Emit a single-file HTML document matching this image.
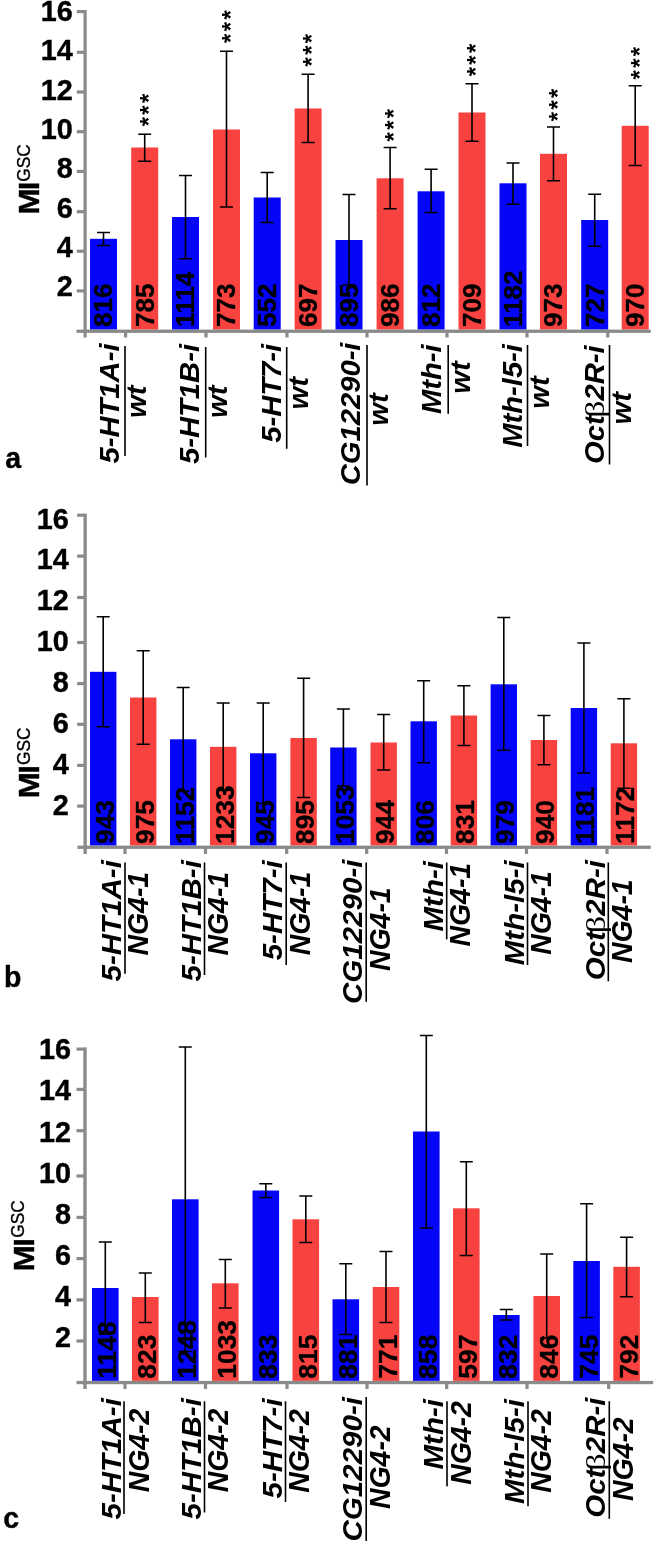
<!DOCTYPE html>
<html lang="en">
<head>
<meta charset="utf-8">
<title>MI GSC bar charts</title>
<style>html,body{margin:0;padding:0;background:#fff}svg{display:block;will-change:transform}</style>
</head>
<body>
<svg width="663" height="1541" viewBox="0 0 663 1541" font-family="'Liberation Sans', Arial, Helvetica, sans-serif" fill="#000">
<rect x="0" y="0" width="663" height="1541" fill="#fff"/>
<g id="panel-a">
<rect x="90" y="238.8" width="27" height="90.8" fill="#0505f7"/>
<rect x="131.2" y="147.5" width="27" height="182.1" fill="#f7423f"/>
<rect x="172" y="217" width="27" height="112.6" fill="#0505f7"/>
<rect x="213" y="129.5" width="27" height="200.1" fill="#f7423f"/>
<rect x="253.7" y="197.5" width="27" height="132.1" fill="#0505f7"/>
<rect x="294.6" y="108.5" width="27" height="221.1" fill="#f7423f"/>
<rect x="335.5" y="240" width="27" height="89.6" fill="#0505f7"/>
<rect x="376.6" y="178.3" width="27" height="151.3" fill="#f7423f"/>
<rect x="417.6" y="191.3" width="27" height="138.3" fill="#0505f7"/>
<rect x="458.5" y="112.5" width="27" height="217.1" fill="#f7423f"/>
<rect x="499.5" y="183.3" width="27" height="146.3" fill="#0505f7"/>
<rect x="540" y="153.8" width="27" height="175.8" fill="#f7423f"/>
<rect x="581.2" y="220" width="27" height="109.6" fill="#0505f7"/>
<rect x="621.7" y="125.8" width="27" height="203.8" fill="#f7423f"/>
<rect x="83.5" y="10" width="3.2" height="327.5" fill="#8a8a8a"/>
<rect x="76.5" y="329.6" width="574.3" height="3.3" fill="#8a8a8a"/>
<rect x="76.8" y="10" width="7.2" height="3.2" fill="#8a8a8a"/>
<rect x="76.8" y="50.7" width="7.2" height="3.2" fill="#8a8a8a"/>
<rect x="76.8" y="90.4" width="7.2" height="3.2" fill="#8a8a8a"/>
<rect x="76.8" y="130.1" width="7.2" height="3.2" fill="#8a8a8a"/>
<rect x="76.8" y="169.8" width="7.2" height="3.2" fill="#8a8a8a"/>
<rect x="76.8" y="210.1" width="7.2" height="3.2" fill="#8a8a8a"/>
<rect x="76.8" y="249.6" width="7.2" height="3.2" fill="#8a8a8a"/>
<rect x="76.8" y="289.3" width="7.2" height="3.2" fill="#8a8a8a"/>
<rect x="124" y="332.4" width="3.2" height="5.1" fill="#8a8a8a"/>
<rect x="204.4" y="332.4" width="3.2" height="5.1" fill="#8a8a8a"/>
<rect x="285.4" y="332.4" width="3.2" height="5.1" fill="#8a8a8a"/>
<rect x="365.4" y="332.4" width="3.2" height="5.1" fill="#8a8a8a"/>
<rect x="445.4" y="332.4" width="3.2" height="5.1" fill="#8a8a8a"/>
<rect x="525.4" y="332.4" width="3.2" height="5.1" fill="#8a8a8a"/>
<rect x="606.2" y="332.4" width="3.2" height="5.1" fill="#8a8a8a"/>
<text transform="translate(72.7 21.1) scale(1 1.02)" font-size="28.8" font-weight="bold" text-anchor="end" stroke="#000" stroke-width="0.4">16</text>
<text transform="translate(72.7 60.4) scale(1 1.02)" font-size="28.8" font-weight="bold" text-anchor="end" stroke="#000" stroke-width="0.4">14</text>
<text transform="translate(72.7 99.7) scale(1 1.02)" font-size="28.8" font-weight="bold" text-anchor="end" stroke="#000" stroke-width="0.4">12</text>
<text transform="translate(72.7 138.9) scale(1 1.02)" font-size="28.8" font-weight="bold" text-anchor="end" stroke="#000" stroke-width="0.4">10</text>
<text transform="translate(72.7 178.2) scale(1 1.02)" font-size="28.8" font-weight="bold" text-anchor="end" stroke="#000" stroke-width="0.4">8</text>
<text transform="translate(72.7 217.5) scale(1 1.02)" font-size="28.8" font-weight="bold" text-anchor="end" stroke="#000" stroke-width="0.4">6</text>
<text transform="translate(72.7 256.7) scale(1 1.02)" font-size="28.8" font-weight="bold" text-anchor="end" stroke="#000" stroke-width="0.4">4</text>
<text transform="translate(72.7 296) scale(1 1.02)" font-size="28.8" font-weight="bold" text-anchor="end" stroke="#000" stroke-width="0.4">2</text>
<g stroke="#000" stroke-width="1.6" fill="none">
<path d="M103.5 232.5 V245.5 M97 232.5 H110 M97 245.5 H110"/>
<path d="M144.7 134.3 V161.3 M138.2 134.3 H151.2 M138.2 161.3 H151.2"/>
<path d="M185.5 175.5 V258.8 M179 175.5 H192 M179 258.8 H192"/>
<path d="M226.5 51.3 V207 M220 51.3 H233 M220 207 H233"/>
<path d="M267.2 172.5 V222.5 M260.7 172.5 H273.7 M260.7 222.5 H273.7"/>
<path d="M308.1 74.3 V142.5 M301.6 74.3 H314.6 M301.6 142.5 H314.6"/>
<path d="M349 194.5 V285 M342.5 194.5 H355.5 M342.5 285 H355.5"/>
<path d="M390.1 147.5 V208.8 M383.6 147.5 H396.6 M383.6 208.8 H396.6"/>
<path d="M431.1 169.3 V212.5 M424.6 169.3 H437.6 M424.6 212.5 H437.6"/>
<path d="M472 83.8 V141.3 M465.5 83.8 H478.5 M465.5 141.3 H478.5"/>
<path d="M513 163 V204.3 M506.5 163 H519.5 M506.5 204.3 H519.5"/>
<path d="M553.5 127 V180.8 M547 127 H560 M547 180.8 H560"/>
<path d="M594.7 194.3 V246.3 M588.2 194.3 H601.2 M588.2 246.3 H601.2"/>
<path d="M635.2 85.8 V165.5 M628.7 85.8 H641.7 M628.7 165.5 H641.7"/>
</g>
<text transform="translate(112.44 326.9) scale(1 1.01) rotate(-90)" font-size="25.8" font-weight="bold" font-style="normal" stroke="#000" stroke-width="0.3">816</text>
<text transform="translate(153.64 326.9) scale(1 1.01) rotate(-90)" font-size="25.8" font-weight="bold" font-style="normal" stroke="#000" stroke-width="0.3">785</text>
<text transform="translate(157 126.3) scale(1 1) rotate(-90)" font-size="24" font-weight="bold" font-style="normal" letter-spacing="2.3">***</text>
<text transform="translate(194.44 326.9) scale(1 1.01) rotate(-90)" font-size="25.8" font-weight="bold" font-style="normal" stroke="#000" stroke-width="0.3">1114</text>
<text transform="translate(235.44 326.9) scale(1 1.01) rotate(-90)" font-size="25.8" font-weight="bold" font-style="normal" stroke="#000" stroke-width="0.3">773</text>
<text transform="translate(238.8 42.9) scale(1 1) rotate(-90)" font-size="24" font-weight="bold" font-style="normal" letter-spacing="2.3">***</text>
<text transform="translate(276.14 326.9) scale(1 1.01) rotate(-90)" font-size="25.8" font-weight="bold" font-style="normal" stroke="#000" stroke-width="0.3">552</text>
<text transform="translate(317.04 326.9) scale(1 1.01) rotate(-90)" font-size="25.8" font-weight="bold" font-style="normal" stroke="#000" stroke-width="0.3">697</text>
<text transform="translate(320.4 66.5) scale(1 1) rotate(-90)" font-size="24" font-weight="bold" font-style="normal" letter-spacing="2.3">***</text>
<text transform="translate(357.94 326.9) scale(1 1.01) rotate(-90)" font-size="25.8" font-weight="bold" font-style="normal" stroke="#000" stroke-width="0.3">895</text>
<text transform="translate(399.04 326.9) scale(1 1.01) rotate(-90)" font-size="25.8" font-weight="bold" font-style="normal" stroke="#000" stroke-width="0.3">986</text>
<text transform="translate(402.4 141.5) scale(1 1) rotate(-90)" font-size="24" font-weight="bold" font-style="normal" letter-spacing="2.3">***</text>
<text transform="translate(440.04 326.9) scale(1 1.01) rotate(-90)" font-size="25.8" font-weight="bold" font-style="normal" stroke="#000" stroke-width="0.3">812</text>
<text transform="translate(480.94 326.9) scale(1 1.01) rotate(-90)" font-size="25.8" font-weight="bold" font-style="normal" stroke="#000" stroke-width="0.3">709</text>
<text transform="translate(484.3 76.3) scale(1 1) rotate(-90)" font-size="24" font-weight="bold" font-style="normal" letter-spacing="2.3">***</text>
<text transform="translate(521.94 326.9) scale(1 1.01) rotate(-90)" font-size="25.8" font-weight="bold" font-style="normal" stroke="#000" stroke-width="0.3">1182</text>
<text transform="translate(562.44 326.9) scale(1 1.01) rotate(-90)" font-size="25.8" font-weight="bold" font-style="normal" stroke="#000" stroke-width="0.3">973</text>
<text transform="translate(565.8 121.2) scale(1 1) rotate(-90)" font-size="24" font-weight="bold" font-style="normal" letter-spacing="2.3">***</text>
<text transform="translate(603.64 326.9) scale(1 1.01) rotate(-90)" font-size="25.8" font-weight="bold" font-style="normal" stroke="#000" stroke-width="0.3">727</text>
<text transform="translate(644.14 326.9) scale(1 1.01) rotate(-90)" font-size="25.8" font-weight="bold" font-style="normal" stroke="#000" stroke-width="0.3">970</text>
<text transform="translate(647.5 79.5) scale(1 1) rotate(-90)" font-size="24" font-weight="bold" font-style="normal" letter-spacing="2.3">***</text>
<text transform="translate(39 214.6) scale(1 1.05) rotate(-90)" font-size="29.8" font-weight="bold" font-style="normal" stroke="#000" stroke-width="0.4">M<tspan dx="-1.6">I</tspan></text>
<text transform="translate(29.5 181.8) scale(1 0.96) rotate(-90)" font-size="18" font-weight="normal" font-style="normal" stroke="#000" stroke-width="0.35">GSC</text>
<text transform="translate(5.3 467.6) scale(1 1.05)" font-size="28.5" font-weight="bold" text-anchor="start" stroke="#000" stroke-width="0.4">a</text>
<text transform="translate(118.8 463.5) scale(1 1.05) rotate(-90)" font-size="27.8" font-weight="bold" font-style="italic">5-HT1A-i</text>
<rect x="124.2" y="346" width="1.6" height="110" fill="#000"/>
<text transform="translate(145.7 418) scale(1 1.05) rotate(-90)" font-size="27.8" font-weight="bold" font-style="italic">wt</text>
<text transform="translate(198.5 464) scale(1 1.05) rotate(-90)" font-size="27.8" font-weight="bold" font-style="italic">5-HT1B-i</text>
<rect x="204.9" y="347" width="1.6" height="110.5" fill="#000"/>
<text transform="translate(226.9 418) scale(1 1.05) rotate(-90)" font-size="27.8" font-weight="bold" font-style="italic">wt</text>
<text transform="translate(280.5 442.8) scale(1 1.05) rotate(-90)" font-size="27.8" font-weight="bold" font-style="italic">5-HT7-i</text>
<rect x="285.9" y="347" width="1.6" height="101.8" fill="#000"/>
<text transform="translate(307.9 409.5) scale(1 1.05) rotate(-90)" font-size="27.8" font-weight="bold" font-style="italic">wt</text>
<text transform="translate(360.3 485.3) scale(1 1.05) rotate(-90)" font-size="27.8" font-weight="bold" font-style="italic">CG12290-i</text>
<rect x="366.2" y="345" width="1.6" height="140.5" fill="#000"/>
<text transform="translate(388.2 425.8) scale(1 1.05) rotate(-90)" font-size="27.8" font-weight="bold" font-style="italic">wt</text>
<text transform="translate(441.3 414) scale(1 1.05) rotate(-90)" font-size="27.8" font-weight="bold" font-style="italic">Mth-i</text>
<rect x="447.4" y="345" width="1.6" height="68.8" fill="#000"/>
<text transform="translate(469.5 393.8) scale(1 1.05) rotate(-90)" font-size="27.8" font-weight="bold" font-style="italic">wt</text>
<text transform="translate(522.3 447.8) scale(1 1.05) rotate(-90)" font-size="27.8" font-weight="bold" font-style="italic">Mth-l5-i</text>
<rect x="526.7" y="345" width="1.6" height="101" fill="#000"/>
<text transform="translate(548.7 408.8) scale(1 1.05) rotate(-90)" font-size="27.8" font-weight="bold" font-style="italic">wt</text>
<text transform="translate(603.8 464) scale(1 1.05) rotate(-90)" font-size="27.8" font-weight="bold" font-style="italic">Oct</text>
<text transform="translate(603.8 417.7) scale(1 1.25) rotate(-90)" font-size="27" font-weight="normal" font-style="normal" font-family="'Liberation Serif', 'DejaVu Serif', serif">&#946;</text>
<text transform="translate(603.8 400.5) scale(1 1.05) rotate(-90)" font-size="27.8" font-weight="bold" font-style="italic">2R-i</text>
<rect x="608.7" y="345" width="1.6" height="119.5" fill="#000"/>
<text transform="translate(630.7 424.5) scale(1 1.05) rotate(-90)" font-size="27.8" font-weight="bold" font-style="italic">wt</text>
</g>
<g id="panel-b">
<rect x="90" y="671.8" width="26.4" height="173.8" fill="#0505f7"/>
<rect x="130" y="697.5" width="26.4" height="148.1" fill="#f7423f"/>
<rect x="170" y="739.3" width="26.4" height="106.3" fill="#0505f7"/>
<rect x="210" y="746.8" width="26.4" height="98.8" fill="#f7423f"/>
<rect x="250" y="753.3" width="26.4" height="92.3" fill="#0505f7"/>
<rect x="290.4" y="738" width="26.4" height="107.6" fill="#f7423f"/>
<rect x="330.2" y="747.5" width="26.4" height="98.1" fill="#0505f7"/>
<rect x="370.5" y="742.5" width="26.4" height="103.1" fill="#f7423f"/>
<rect x="410.5" y="721.3" width="26.4" height="124.3" fill="#0505f7"/>
<rect x="450.7" y="715.5" width="26.4" height="130.1" fill="#f7423f"/>
<rect x="490.6" y="684.3" width="26.4" height="161.3" fill="#0505f7"/>
<rect x="530.7" y="740" width="26.4" height="105.6" fill="#f7423f"/>
<rect x="570.7" y="708" width="26.4" height="137.6" fill="#0505f7"/>
<rect x="610.7" y="743.3" width="26.4" height="102.3" fill="#f7423f"/>
<rect x="83.5" y="513.6" width="3.3" height="340.4" fill="#8a8a8a"/>
<rect x="77.5" y="845.6" width="573.3" height="3.3" fill="#8a8a8a"/>
<rect x="77.2" y="513.6" width="6.8" height="3.2" fill="#8a8a8a"/>
<rect x="77.2" y="554.5" width="6.8" height="3.2" fill="#8a8a8a"/>
<rect x="77.2" y="595.9" width="6.8" height="3.2" fill="#8a8a8a"/>
<rect x="77.2" y="640.9" width="6.8" height="3.2" fill="#8a8a8a"/>
<rect x="77.2" y="682" width="6.8" height="3.2" fill="#8a8a8a"/>
<rect x="77.2" y="722.7" width="6.8" height="3.2" fill="#8a8a8a"/>
<rect x="77.2" y="763.8" width="6.8" height="3.2" fill="#8a8a8a"/>
<rect x="77.2" y="804.5" width="6.8" height="3.2" fill="#8a8a8a"/>
<rect x="123.4" y="848.4" width="3.2" height="5.6" fill="#8a8a8a"/>
<rect x="203.9" y="848.4" width="3.2" height="5.6" fill="#8a8a8a"/>
<rect x="285.1" y="848.4" width="3.2" height="5.6" fill="#8a8a8a"/>
<rect x="365.1" y="848.4" width="3.2" height="5.6" fill="#8a8a8a"/>
<rect x="444.9" y="848.4" width="3.2" height="5.6" fill="#8a8a8a"/>
<rect x="524.9" y="848.4" width="3.2" height="5.6" fill="#8a8a8a"/>
<rect x="605.4" y="848.4" width="3.2" height="5.6" fill="#8a8a8a"/>
<text transform="translate(68.7 528.5) scale(1 1.02)" font-size="28.8" font-weight="bold" text-anchor="end" stroke="#000" stroke-width="0.4">16</text>
<text transform="translate(68.7 569.4) scale(1 1.02)" font-size="28.8" font-weight="bold" text-anchor="end" stroke="#000" stroke-width="0.4">14</text>
<text transform="translate(68.7 610.2) scale(1 1.02)" font-size="28.8" font-weight="bold" text-anchor="end" stroke="#000" stroke-width="0.4">12</text>
<text transform="translate(68.7 651.1) scale(1 1.02)" font-size="28.8" font-weight="bold" text-anchor="end" stroke="#000" stroke-width="0.4">10</text>
<text transform="translate(68.7 692) scale(1 1.02)" font-size="28.8" font-weight="bold" text-anchor="end" stroke="#000" stroke-width="0.4">8</text>
<text transform="translate(68.7 732.9) scale(1 1.02)" font-size="28.8" font-weight="bold" text-anchor="end" stroke="#000" stroke-width="0.4">6</text>
<text transform="translate(68.7 773.7) scale(1 1.02)" font-size="28.8" font-weight="bold" text-anchor="end" stroke="#000" stroke-width="0.4">4</text>
<text transform="translate(68.7 814.6) scale(1 1.02)" font-size="28.8" font-weight="bold" text-anchor="end" stroke="#000" stroke-width="0.4">2</text>
<g stroke="#000" stroke-width="1.6" fill="none">
<path d="M103.2 616.8 V726.8 M96.7 616.8 H109.7 M96.7 726.8 H109.7"/>
<path d="M143.2 650.8 V744.3 M136.7 650.8 H149.7 M136.7 744.3 H149.7"/>
<path d="M183.2 687.5 V791 M176.7 687.5 H189.7 M176.7 791 H189.7"/>
<path d="M223.2 703 V790.5 M216.7 703 H229.7 M216.7 790.5 H229.7"/>
<path d="M263.2 703 V803.5 M256.7 703 H269.7 M256.7 803.5 H269.7"/>
<path d="M303.6 678.3 V797.5 M297.1 678.3 H310.1 M297.1 797.5 H310.1"/>
<path d="M343.4 709 V786 M336.9 709 H349.9 M336.9 786 H349.9"/>
<path d="M383.7 714.5 V770 M377.2 714.5 H390.2 M377.2 770 H390.2"/>
<path d="M423.7 680.8 V762.8 M417.2 680.8 H430.2 M417.2 762.8 H430.2"/>
<path d="M463.9 685.8 V745.5 M457.4 685.8 H470.4 M457.4 745.5 H470.4"/>
<path d="M503.8 617.5 V750.3 M497.3 617.5 H510.3 M497.3 750.3 H510.3"/>
<path d="M543.9 715.5 V764.8 M537.4 715.5 H550.4 M537.4 764.8 H550.4"/>
<path d="M583.9 643 V773 M577.4 643 H590.4 M577.4 773 H590.4"/>
<path d="M623.9 698.8 V788.3 M617.4 698.8 H630.4 M617.4 788.3 H630.4"/>
</g>
<text transform="translate(113.55 844) scale(1 1) rotate(-90)" font-size="26.4" font-weight="bold" font-style="normal" stroke="#000" stroke-width="0.3">943</text>
<text transform="translate(153.55 844) scale(1 1) rotate(-90)" font-size="26.4" font-weight="bold" font-style="normal" stroke="#000" stroke-width="0.3">975</text>
<text transform="translate(193.55 844) scale(1 1) rotate(-90)" font-size="26.4" font-weight="bold" font-style="normal" stroke="#000" stroke-width="0.3">1152</text>
<text transform="translate(233.55 844) scale(1 1) rotate(-90)" font-size="26.4" font-weight="bold" font-style="normal" stroke="#000" stroke-width="0.3">1233</text>
<text transform="translate(273.55 844) scale(1 1) rotate(-90)" font-size="26.4" font-weight="bold" font-style="normal" stroke="#000" stroke-width="0.3">945</text>
<text transform="translate(313.95 844) scale(1 1) rotate(-90)" font-size="26.4" font-weight="bold" font-style="normal" stroke="#000" stroke-width="0.3">895</text>
<text transform="translate(353.75 844) scale(1 1) rotate(-90)" font-size="26.4" font-weight="bold" font-style="normal" stroke="#000" stroke-width="0.3">1053</text>
<text transform="translate(394.05 844) scale(1 1) rotate(-90)" font-size="26.4" font-weight="bold" font-style="normal" stroke="#000" stroke-width="0.3">944</text>
<text transform="translate(434.05 844) scale(1 1) rotate(-90)" font-size="26.4" font-weight="bold" font-style="normal" stroke="#000" stroke-width="0.3">806</text>
<text transform="translate(474.25 844) scale(1 1) rotate(-90)" font-size="26.4" font-weight="bold" font-style="normal" stroke="#000" stroke-width="0.3">831</text>
<text transform="translate(514.15 844) scale(1 1) rotate(-90)" font-size="26.4" font-weight="bold" font-style="normal" stroke="#000" stroke-width="0.3">979</text>
<text transform="translate(554.25 844) scale(1 1) rotate(-90)" font-size="26.4" font-weight="bold" font-style="normal" stroke="#000" stroke-width="0.3">940</text>
<text transform="translate(594.25 844) scale(1 1) rotate(-90)" font-size="26.4" font-weight="bold" font-style="normal" stroke="#000" stroke-width="0.3">1181</text>
<text transform="translate(634.25 844) scale(1 1) rotate(-90)" font-size="26.4" font-weight="bold" font-style="normal" stroke="#000" stroke-width="0.3">1172</text>
<text transform="translate(39 798.2) scale(1 1.05) rotate(-90)" font-size="29.8" font-weight="bold" font-style="normal" stroke="#000" stroke-width="0.4">M<tspan dx="-1.6">I</tspan></text>
<text transform="translate(29.5 765) scale(1 0.96) rotate(-90)" font-size="18" font-weight="normal" font-style="normal" stroke="#000" stroke-width="0.35">GSC</text>
<text transform="translate(4 986.5) scale(1 1.05)" font-size="28.5" font-weight="bold" text-anchor="start" stroke="#000" stroke-width="0.4">b</text>
<text transform="translate(121.2 981.5) scale(1 1.04) rotate(-90)" font-size="28.4" font-weight="bold" font-style="italic">5-HT1A-i</text>
<rect x="124.2" y="862.5" width="1.6" height="111.3" fill="#000"/>
<text transform="translate(148.4 955.5) scale(1 0.96) rotate(-90)" font-size="29.6" font-weight="bold" font-style="italic">NG4-1</text>
<text transform="translate(200.7 981.5) scale(1 1.04) rotate(-90)" font-size="28.4" font-weight="bold" font-style="italic">5-HT1B-i</text>
<rect x="203.7" y="862.5" width="1.6" height="112.5" fill="#000"/>
<text transform="translate(227.9 955.5) scale(1 0.96) rotate(-90)" font-size="29.6" font-weight="bold" font-style="italic">NG4-1</text>
<text transform="translate(282.4 960.3) scale(1 1.04) rotate(-90)" font-size="28.4" font-weight="bold" font-style="italic">5-HT7-i</text>
<rect x="285.4" y="862.5" width="1.6" height="102.5" fill="#000"/>
<text transform="translate(309.6 955.3) scale(1 0.96) rotate(-90)" font-size="29.6" font-weight="bold" font-style="italic">NG4-1</text>
<text transform="translate(362.4 1004) scale(1 1.04) rotate(-90)" font-size="28.4" font-weight="bold" font-style="italic">CG12290-i</text>
<rect x="365.4" y="862.5" width="1.6" height="139.3" fill="#000"/>
<text transform="translate(389.6 971) scale(1 0.96) rotate(-90)" font-size="29.6" font-weight="bold" font-style="italic">NG4-1</text>
<text transform="translate(442.9 931.5) scale(1 1.04) rotate(-90)" font-size="28.4" font-weight="bold" font-style="italic">Mth-i</text>
<rect x="445.9" y="862.5" width="1.6" height="76.8" fill="#000"/>
<text transform="translate(470.1 946.5) scale(1 0.96) rotate(-90)" font-size="29.6" font-weight="bold" font-style="italic">NG4-1</text>
<text transform="translate(523.7 965.3) scale(1 1.04) rotate(-90)" font-size="28.4" font-weight="bold" font-style="italic">Mth-l5-i</text>
<rect x="526.7" y="862.5" width="1.6" height="102.5" fill="#000"/>
<text transform="translate(550.9 954.8) scale(1 0.96) rotate(-90)" font-size="29.6" font-weight="bold" font-style="italic">NG4-1</text>
<text transform="translate(604.5 980.3) scale(1 1.04) rotate(-90)" font-size="28.4" font-weight="bold" font-style="italic">Oct</text>
<text transform="translate(604.5 933.23) scale(1 1.24) rotate(-90)" font-size="27.58" font-weight="normal" font-style="normal" font-family="'Liberation Serif', 'DejaVu Serif', serif">&#946;</text>
<text transform="translate(604.5 915.74) scale(1 1.04) rotate(-90)" font-size="28.4" font-weight="bold" font-style="italic">2R-i</text>
<rect x="607.5" y="862.5" width="1.6" height="118.8" fill="#000"/>
<text transform="translate(631.7 963) scale(1 0.96) rotate(-90)" font-size="29.6" font-weight="bold" font-style="italic">NG4-1</text>
</g>
<g id="panel-c">
<rect x="92" y="1288" width="26.6" height="92.9" fill="#0505f7"/>
<rect x="132" y="1297" width="26.6" height="83.9" fill="#f7423f"/>
<rect x="172" y="1199.3" width="26.6" height="181.6" fill="#0505f7"/>
<rect x="212" y="1283.3" width="26.6" height="97.6" fill="#f7423f"/>
<rect x="252.5" y="1190.5" width="26.6" height="190.4" fill="#0505f7"/>
<rect x="292.5" y="1219.3" width="26.6" height="161.6" fill="#f7423f"/>
<rect x="332.5" y="1299.3" width="26.6" height="81.6" fill="#0505f7"/>
<rect x="372.7" y="1287" width="26.6" height="93.9" fill="#f7423f"/>
<rect x="413" y="1131.5" width="26.6" height="249.4" fill="#0505f7"/>
<rect x="453" y="1208.3" width="26.6" height="172.6" fill="#f7423f"/>
<rect x="493" y="1315" width="26.6" height="65.9" fill="#0505f7"/>
<rect x="533.4" y="1296" width="26.6" height="84.9" fill="#f7423f"/>
<rect x="573.3" y="1261" width="26.6" height="119.9" fill="#0505f7"/>
<rect x="613.3" y="1266.8" width="26.6" height="114.1" fill="#f7423f"/>
<rect x="83.3" y="1047.4" width="3.4" height="341.6" fill="#8a8a8a"/>
<rect x="76.5" y="1380.9" width="576.7" height="3.3" fill="#8a8a8a"/>
<rect x="76.5" y="1047.5" width="7.3" height="3.2" fill="#8a8a8a"/>
<rect x="76.5" y="1087.8" width="7.3" height="3.2" fill="#8a8a8a"/>
<rect x="76.5" y="1129.1" width="7.3" height="3.2" fill="#8a8a8a"/>
<rect x="76.5" y="1174.4" width="7.3" height="3.2" fill="#8a8a8a"/>
<rect x="76.5" y="1215.8" width="7.3" height="3.2" fill="#8a8a8a"/>
<rect x="76.5" y="1257" width="7.3" height="3.2" fill="#8a8a8a"/>
<rect x="76.5" y="1298.3" width="7.3" height="3.2" fill="#8a8a8a"/>
<rect x="76.5" y="1339.4" width="7.3" height="3.2" fill="#8a8a8a"/>
<rect x="123.4" y="1383.7" width="3.2" height="5.3" fill="#8a8a8a"/>
<rect x="203.9" y="1383.7" width="3.2" height="5.3" fill="#8a8a8a"/>
<rect x="285.4" y="1383.7" width="3.2" height="5.3" fill="#8a8a8a"/>
<rect x="365.4" y="1383.7" width="3.2" height="5.3" fill="#8a8a8a"/>
<rect x="445.1" y="1383.7" width="3.2" height="5.3" fill="#8a8a8a"/>
<rect x="525.4" y="1383.7" width="3.2" height="5.3" fill="#8a8a8a"/>
<rect x="607.1" y="1383.7" width="3.2" height="5.3" fill="#8a8a8a"/>
<text transform="translate(70.9 1059.2) scale(1 1.02)" font-size="28.8" font-weight="bold" text-anchor="end" stroke="#000" stroke-width="0.4">16</text>
<text transform="translate(70.9 1100.4) scale(1 1.02)" font-size="28.8" font-weight="bold" text-anchor="end" stroke="#000" stroke-width="0.4">14</text>
<text transform="translate(70.9 1141.5) scale(1 1.02)" font-size="28.8" font-weight="bold" text-anchor="end" stroke="#000" stroke-width="0.4">12</text>
<text transform="translate(70.9 1182.7) scale(1 1.02)" font-size="28.8" font-weight="bold" text-anchor="end" stroke="#000" stroke-width="0.4">10</text>
<text transform="translate(70.9 1223.8) scale(1 1.02)" font-size="28.8" font-weight="bold" text-anchor="end" stroke="#000" stroke-width="0.4">8</text>
<text transform="translate(70.9 1265) scale(1 1.02)" font-size="28.8" font-weight="bold" text-anchor="end" stroke="#000" stroke-width="0.4">6</text>
<text transform="translate(70.9 1306.2) scale(1 1.02)" font-size="28.8" font-weight="bold" text-anchor="end" stroke="#000" stroke-width="0.4">4</text>
<text transform="translate(70.9 1347.3) scale(1 1.02)" font-size="28.8" font-weight="bold" text-anchor="end" stroke="#000" stroke-width="0.4">2</text>
<g stroke="#000" stroke-width="1.6" fill="none">
<path d="M105.3 1242 V1334 M98.8 1242 H111.8 M98.8 1334 H111.8"/>
<path d="M145.3 1273 V1322.5 M138.8 1273 H151.8 M138.8 1322.5 H151.8"/>
<path d="M185.3 1047 V1351.5 M178.8 1047 H191.8 M178.8 1351.5 H191.8"/>
<path d="M225.3 1259.5 V1308 M218.8 1259.5 H231.8 M218.8 1308 H231.8"/>
<path d="M265.8 1183.8 V1197.5 M259.3 1183.8 H272.3 M259.3 1197.5 H272.3"/>
<path d="M305.8 1196 V1242.5 M299.3 1196 H312.3 M299.3 1242.5 H312.3"/>
<path d="M345.8 1263.8 V1334.5 M339.3 1263.8 H352.3 M339.3 1334.5 H352.3"/>
<path d="M386 1251.5 V1322.5 M379.5 1251.5 H392.5 M379.5 1322.5 H392.5"/>
<path d="M426.3 1035.5 V1228 M419.8 1035.5 H432.8 M419.8 1228 H432.8"/>
<path d="M466.3 1161.8 V1255.5 M459.8 1161.8 H472.8 M459.8 1255.5 H472.8"/>
<path d="M506.3 1309.5 V1320 M499.8 1309.5 H512.8 M499.8 1320 H512.8"/>
<path d="M546.7 1254 V1338 M540.2 1254 H553.2 M540.2 1338 H553.2"/>
<path d="M586.6 1203.8 V1317.5 M580.1 1203.8 H593.1 M580.1 1317.5 H593.1"/>
<path d="M626.6 1237.3 V1296.8 M620.1 1237.3 H633.1 M620.1 1296.8 H633.1"/>
</g>
<text transform="translate(116.35 1378.7) scale(1 1) rotate(-90)" font-size="26.4" font-weight="bold" font-style="normal" stroke="#000" stroke-width="0.3">1148</text>
<text transform="translate(156.35 1378.7) scale(1 1) rotate(-90)" font-size="26.4" font-weight="bold" font-style="normal" stroke="#000" stroke-width="0.3">823</text>
<text transform="translate(196.35 1378.7) scale(1 1) rotate(-90)" font-size="26.4" font-weight="bold" font-style="normal" stroke="#000" stroke-width="0.3">1248</text>
<text transform="translate(236.35 1378.7) scale(1 1) rotate(-90)" font-size="26.4" font-weight="bold" font-style="normal" stroke="#000" stroke-width="0.3">1033</text>
<text transform="translate(276.85 1378.7) scale(1 1) rotate(-90)" font-size="26.4" font-weight="bold" font-style="normal" stroke="#000" stroke-width="0.3">833</text>
<text transform="translate(316.85 1378.7) scale(1 1) rotate(-90)" font-size="26.4" font-weight="bold" font-style="normal" stroke="#000" stroke-width="0.3">815</text>
<text transform="translate(356.85 1378.7) scale(1 1) rotate(-90)" font-size="26.4" font-weight="bold" font-style="normal" stroke="#000" stroke-width="0.3">881</text>
<text transform="translate(397.05 1378.7) scale(1 1) rotate(-90)" font-size="26.4" font-weight="bold" font-style="normal" stroke="#000" stroke-width="0.3">771</text>
<text transform="translate(437.35 1378.7) scale(1 1) rotate(-90)" font-size="26.4" font-weight="bold" font-style="normal" stroke="#000" stroke-width="0.3">858</text>
<text transform="translate(477.35 1378.7) scale(1 1) rotate(-90)" font-size="26.4" font-weight="bold" font-style="normal" stroke="#000" stroke-width="0.3">597</text>
<text transform="translate(517.35 1378.7) scale(1 1) rotate(-90)" font-size="26.4" font-weight="bold" font-style="normal" stroke="#000" stroke-width="0.3">832</text>
<text transform="translate(557.75 1378.7) scale(1 1) rotate(-90)" font-size="26.4" font-weight="bold" font-style="normal" stroke="#000" stroke-width="0.3">846</text>
<text transform="translate(597.65 1378.7) scale(1 1) rotate(-90)" font-size="26.4" font-weight="bold" font-style="normal" stroke="#000" stroke-width="0.3">745</text>
<text transform="translate(637.65 1378.7) scale(1 1) rotate(-90)" font-size="26.4" font-weight="bold" font-style="normal" stroke="#000" stroke-width="0.3">792</text>
<text transform="translate(34.2 1271.2) scale(1 1.05) rotate(-90)" font-size="29.8" font-weight="bold" font-style="normal" stroke="#000" stroke-width="0.4">M<tspan dx="-1.6">I</tspan></text>
<text transform="translate(24.3 1237.8) scale(1 0.96) rotate(-90)" font-size="18" font-weight="normal" font-style="normal" stroke="#000" stroke-width="0.35">GSC</text>
<text transform="translate(3.2 1528.3) scale(1 1.05)" font-size="28.5" font-weight="bold" text-anchor="start" stroke="#000" stroke-width="0.4">c</text>
<text transform="translate(121 1519.5) scale(1 1.04) rotate(-90)" font-size="28.4" font-weight="bold" font-style="italic">5-HT1A-i</text>
<rect x="123.2" y="1401.3" width="1.6" height="112.7" fill="#000"/>
<text transform="translate(148.6 1492.3) scale(1 0.96) rotate(-90)" font-size="29.6" font-weight="bold" font-style="italic">NG4-2</text>
<text transform="translate(200.5 1519.5) scale(1 1.04) rotate(-90)" font-size="28.4" font-weight="bold" font-style="italic">5-HT1B-i</text>
<rect x="203.7" y="1401.3" width="1.6" height="111.2" fill="#000"/>
<text transform="translate(228.1 1492.3) scale(1 0.96) rotate(-90)" font-size="29.6" font-weight="bold" font-style="italic">NG4-2</text>
<text transform="translate(281.5 1498.5) scale(1 1.04) rotate(-90)" font-size="28.4" font-weight="bold" font-style="italic">5-HT7-i</text>
<rect x="284.7" y="1401.3" width="1.6" height="100.7" fill="#000"/>
<text transform="translate(309.1 1492.8) scale(1 0.96) rotate(-90)" font-size="29.6" font-weight="bold" font-style="italic">NG4-2</text>
<text transform="translate(362.2 1541.5) scale(1 1.04) rotate(-90)" font-size="28.4" font-weight="bold" font-style="italic">CG12290-i</text>
<rect x="365.4" y="1397" width="1.6" height="144" fill="#000"/>
<text transform="translate(389.8 1509) scale(1 0.96) rotate(-90)" font-size="29.6" font-weight="bold" font-style="italic">NG4-2</text>
<text transform="translate(443 1469.5) scale(1 1.04) rotate(-90)" font-size="28.4" font-weight="bold" font-style="italic">Mth-i</text>
<rect x="446.2" y="1401.3" width="1.6" height="85" fill="#000"/>
<text transform="translate(470.6 1484.8) scale(1 0.96) rotate(-90)" font-size="29.6" font-weight="bold" font-style="italic">NG4-2</text>
<text transform="translate(524.3 1504) scale(1 1.04) rotate(-90)" font-size="28.4" font-weight="bold" font-style="italic">Mth-l5-i</text>
<rect x="527.2" y="1401.3" width="1.6" height="105" fill="#000"/>
<text transform="translate(550.9 1492.8) scale(1 0.96) rotate(-90)" font-size="29.6" font-weight="bold" font-style="italic">NG4-2</text>
<text transform="translate(605.3 1517.8) scale(1 1.04) rotate(-90)" font-size="28.4" font-weight="bold" font-style="italic">Oct</text>
<text transform="translate(605.3 1470.73) scale(1 1.24) rotate(-90)" font-size="27.58" font-weight="normal" font-style="normal" font-family="'Liberation Serif', 'DejaVu Serif', serif">&#946;</text>
<text transform="translate(605.3 1453.24) scale(1 1.04) rotate(-90)" font-size="28.4" font-weight="bold" font-style="italic">2R-i</text>
<rect x="608.5" y="1401.3" width="1.6" height="117.5" fill="#000"/>
<text transform="translate(632.9 1501) scale(1 0.96) rotate(-90)" font-size="29.6" font-weight="bold" font-style="italic">NG4-2</text>
</g>
</svg>
</body>
</html>
